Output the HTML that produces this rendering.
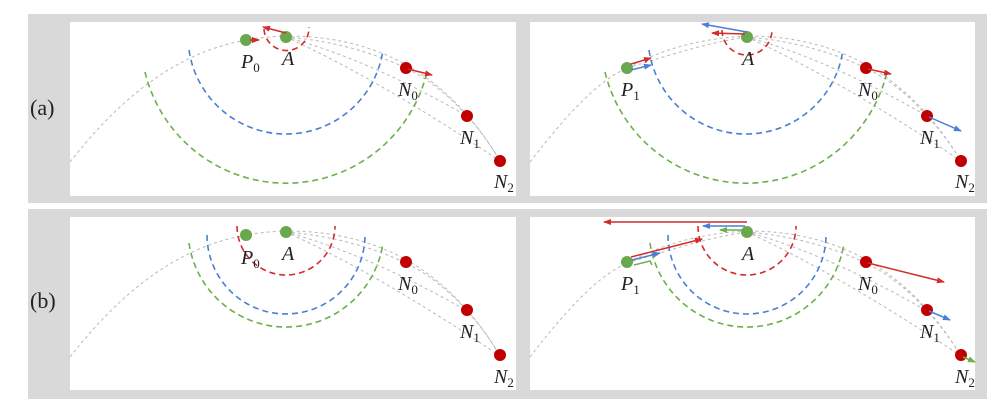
<!DOCTYPE html>
<html><head><meta charset="utf-8"><style>
body{margin:0;background:#fff;}
svg{display:block;}
text{font-family:"Liberation Serif",serif;}
.l{font-style:italic;font-size:20px;fill:#222;}
.s{font-style:normal;font-size:13px;}
</style></head><body>
<svg width="1000" height="406" viewBox="0 0 1000 406" xmlns="http://www.w3.org/2000/svg">
<defs>
<marker id="mr" markerWidth="8" markerHeight="6" refX="7" refY="3" orient="auto" markerUnits="userSpaceOnUse"><path d="M0,0L8,3L0,6Z" fill="#d42a2a"/></marker>
<marker id="mb" markerWidth="8" markerHeight="6" refX="7" refY="3" orient="auto" markerUnits="userSpaceOnUse"><path d="M0,0L8,3L0,6Z" fill="#4a7fd4"/></marker>
<marker id="mg" markerWidth="8" markerHeight="6" refX="7" refY="3" orient="auto" markerUnits="userSpaceOnUse"><path d="M0,0L8,3L0,6Z" fill="#6ab04c"/></marker>
<g id="trajL" fill="none" stroke="#b8b8b8" stroke-width="1" stroke-dasharray="3,3">
<path d="M70,162 C150,60 220,38 286,36 C360,36 440,60 500,161"/>
<path d="M286,37 Q350,42 406,68 Q440,85 467,116 Q485,135 500,161"/>
<path d="M286,37 Q370,60 467,116"/>
<path d="M286,37 Q380,80 500,161"/>
</g>
<g id="trajR" fill="none" stroke="#b8b8b8" stroke-width="1" stroke-dasharray="3,3">
<path d="M530,162 C570,110 600,80 627,68 C670,45 710,38 747,36 C820,36 900,60 961,161"/>
<path d="M627,68 C670,55 710,42 747,37"/>
<path d="M747,37 Q810,42 866,68 Q900,85 927,116 Q945,135 961,161"/>
<path d="M747,37 Q830,60 927,116"/>
<path d="M747,37 Q840,80 961,161"/>
</g>
</defs>
<!-- gray frames -->
<rect x="28" y="14" width="959" height="189" fill="#d9d9d9"/>
<rect x="28" y="209" width="959" height="190" fill="#d9d9d9"/>
<rect x="70" y="22" width="446" height="174" fill="#fff"/>
<rect x="530" y="22" width="445" height="174" fill="#fff"/>
<rect x="70" y="217" width="446" height="173" fill="#fff"/>
<rect x="530" y="217" width="445" height="173" fill="#fff"/>
<text x="30" y="115" font-size="22" fill="#222">(a)</text>
<text x="30" y="308" font-size="22" fill="#222">(b)</text>

<!-- top-left -->
<use href="#trajL"/>
<g fill="none" stroke-width="1.6" stroke-dasharray="6,4">
<path d="M189,50 A98,98 0 0 0 383,50" stroke="#4a7fd4"/>
<path d="M145,72 A145,145 0 0 0 427,72" stroke="#6ab04c"/>
<path d="M264,29 A22,22 0 1 0 309,27" stroke="#d42a2a"/>
</g>
<circle cx="246" cy="40" r="6" fill="#6aa84f"/>
<circle cx="286" cy="37" r="6" fill="#6aa84f"/>
<circle cx="406" cy="68" r="6" fill="#c00000"/>
<circle cx="467" cy="116" r="6" fill="#c00000"/>
<circle cx="500" cy="161" r="6" fill="#c00000"/>
<g stroke-width="1.5" fill="none">
<line x1="286" y1="33" x2="263" y2="27" stroke="#d42a2a" marker-end="url(#mr)"/>
<line x1="250" y1="40" x2="259" y2="40" stroke="#d42a2a" marker-end="url(#mr)"/>
<line x1="408" y1="69" x2="432" y2="75" stroke="#d42a2a" marker-end="url(#mr)"/>
</g>
<text class="l" x="241" y="68">P<tspan class="s" dy="4">0</tspan></text>
<text class="l" x="282" y="65">A</text>
<text class="l" x="398" y="96">N<tspan class="s" dy="4">0</tspan></text>
<text class="l" x="460" y="144">N<tspan class="s" dy="4">1</tspan></text>
<text class="l" x="494" y="188">N<tspan class="s" dy="4">2</tspan></text>

<!-- top-right -->
<use href="#trajR"/>
<g fill="none" stroke-width="1.6" stroke-dasharray="6,4">
<path d="M649,50 A98,98 0 0 0 843,50" stroke="#4a7fd4"/>
<path d="M605,72 A145,145 0 0 0 887,72" stroke="#6ab04c"/>
<path d="M722,30 A25,25 0 1 0 772,30" stroke="#d42a2a"/>
</g>
<circle cx="627" cy="68" r="6" fill="#6aa84f"/>
<circle cx="747" cy="37" r="6" fill="#6aa84f"/>
<circle cx="866" cy="68" r="6" fill="#c00000"/>
<circle cx="927" cy="116" r="6" fill="#c00000"/>
<circle cx="961" cy="161" r="6" fill="#c00000"/>
<g stroke-width="1.5" fill="none">
<line x1="747" y1="32" x2="702" y2="24" stroke="#4a7fd4" marker-end="url(#mb)"/>
<line x1="745" y1="34" x2="712" y2="33" stroke="#d42a2a" marker-end="url(#mr)"/>
<line x1="631" y1="64" x2="651" y2="58" stroke="#d42a2a" marker-end="url(#mr)"/>
<line x1="631" y1="70" x2="651" y2="65" stroke="#4a7fd4" marker-end="url(#mb)"/>
<line x1="868" y1="69" x2="891" y2="74" stroke="#d42a2a" marker-end="url(#mr)"/>
<line x1="929" y1="117" x2="961" y2="131" stroke="#4a7fd4" marker-end="url(#mb)"/>
</g>
<text class="l" x="621" y="96">P<tspan class="s" dy="4">1</tspan></text>
<text class="l" x="742" y="65">A</text>
<text class="l" x="858" y="96">N<tspan class="s" dy="4">0</tspan></text>
<text class="l" x="920" y="144">N<tspan class="s" dy="4">1</tspan></text>
<text class="l" x="955" y="188">N<tspan class="s" dy="4">2</tspan></text>

<!-- bottom-left -->
<use href="#trajL" transform="translate(0,195)"/>
<g fill="none" stroke-width="1.6" stroke-dasharray="6,4">
<path d="M237,226 A49,49 0 1 0 335,226" stroke="#d42a2a"/>
<path d="M207,235 A79,79 0 0 0 365,235" stroke="#4a7fd4"/>
<path d="M189,243 A98,98 0 0 0 383,243" stroke="#6ab04c"/>
</g>
<circle cx="246" cy="235" r="6" fill="#6aa84f"/>
<circle cx="286" cy="232" r="6" fill="#6aa84f"/>
<circle cx="406" cy="262" r="6" fill="#c00000"/>
<circle cx="467" cy="310" r="6" fill="#c00000"/>
<circle cx="500" cy="355" r="6" fill="#c00000"/>
<text class="l" x="241" y="264">P<tspan class="s" dy="4">0</tspan></text>
<text class="l" x="282" y="260">A</text>
<text class="l" x="398" y="290">N<tspan class="s" dy="4">0</tspan></text>
<text class="l" x="460" y="338">N<tspan class="s" dy="4">1</tspan></text>
<text class="l" x="494" y="383">N<tspan class="s" dy="4">2</tspan></text>

<!-- bottom-right -->
<use href="#trajR" transform="translate(0,195)"/>
<g fill="none" stroke-width="1.6" stroke-dasharray="6,4">
<path d="M698,226 A49,49 0 1 0 796,226" stroke="#d42a2a"/>
<path d="M668,235 A79,79 0 0 0 826,235" stroke="#4a7fd4"/>
<path d="M650,243 A98,98 0 0 0 844,243" stroke="#6ab04c"/>
</g>
<circle cx="627" cy="262" r="6" fill="#6aa84f"/>
<circle cx="747" cy="232" r="6" fill="#6aa84f"/>
<circle cx="866" cy="262" r="6" fill="#c00000"/>
<circle cx="927" cy="310" r="6" fill="#c00000"/>
<circle cx="961" cy="355" r="6" fill="#c00000"/>
<g stroke-width="1.5" fill="none">
<line x1="747" y1="222" x2="604" y2="222" stroke="#d42a2a" marker-end="url(#mr)"/>
<line x1="745" y1="226" x2="703" y2="226" stroke="#4a7fd4" marker-end="url(#mb)"/>
<line x1="742" y1="230" x2="720" y2="230" stroke="#6ab04c" marker-end="url(#mg)"/>
<line x1="631" y1="257" x2="702" y2="239" stroke="#d42a2a" marker-end="url(#mr)"/>
<line x1="632" y1="260" x2="660" y2="253" stroke="#4a7fd4" marker-end="url(#mb)"/>
<polyline points="634,265 650,261 652,265" stroke="#6ab04c"/>
<line x1="868" y1="263" x2="944" y2="282" stroke="#d42a2a" marker-end="url(#mr)"/>
<line x1="929" y1="311" x2="950" y2="320" stroke="#4a7fd4" marker-end="url(#mb)"/>
<line x1="963" y1="357" x2="975" y2="362" stroke="#6ab04c" marker-end="url(#mg)"/>
</g>
<text class="l" x="621" y="290">P<tspan class="s" dy="4">1</tspan></text>
<text class="l" x="742" y="260">A</text>
<text class="l" x="858" y="290">N<tspan class="s" dy="4">0</tspan></text>
<text class="l" x="920" y="338">N<tspan class="s" dy="4">1</tspan></text>
<text class="l" x="955" y="383">N<tspan class="s" dy="4">2</tspan></text>
</svg>
</body></html>
